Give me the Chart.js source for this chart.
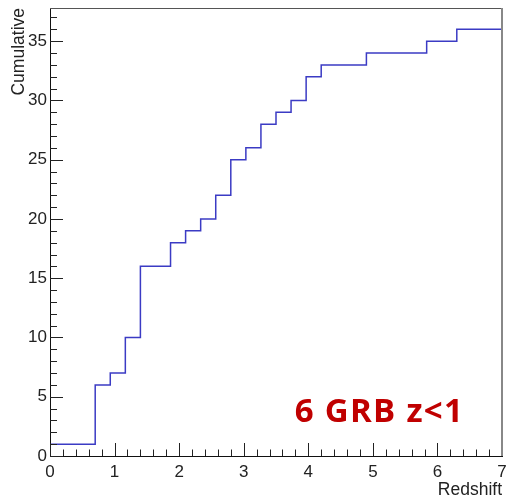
<!DOCTYPE html>
<html>
<head>
<meta charset="utf-8">
<script src="https://cdn.jsdelivr.net/npm/chart.js@4"></script>
<style>
  html, body { margin: 0; padding: 0; background: #fff; }
  #wrap { width: 506px; height: 499px; }
</style>
</head>
<body>
<div id="wrap"><canvas id="cumChart" width="506" height="499"></canvas></div>
<script>
// histogram binning (redshift axis)
const zMin = 0;
const zMax = 7;
const nBins = 30;
// cumulative number of GRBs per bin
const cumulative = [
    1, 1, 1, 6, 7, 10, 16, 16, 18, 19,
    20, 22, 25, 26, 28, 29, 30, 32, 33, 33,
    33, 34, 34, 34, 34, 35, 35, 36, 36, 36
];
const xTicks = [0, 1, 2, 3, 4, 5, 6, 7];
const yTicks = [0, 5, 10, 15, 20, 25, 30, 35];
const yMax = 37.8;
const note = '6 GRB z<1';

// build step points: value held from each bin's low edge to the next
const binWidth = (zMax - zMin) / nBins;
const points = cumulative.map((v, i) => ({ x: zMin + i * binWidth, y: v }));
points.push({ x: zMax, y: cumulative[cumulative.length - 1] });

const axisFont = { family: "'Liberation Sans', Arial, sans-serif", size: 17 };
const titleFont = { family: "'Liberation Sans', Arial, sans-serif", size: 17.5 };

// ROOT-like frame: inward major/minor ticks, grey top/right edges, label
const rootFrame = {
    id: 'rootFrame',
    afterDraw(chart) {
        const ctx = chart.ctx;
        const a = chart.chartArea;
        const xs = chart.scales.x;
        const ys = chart.scales.y;
        ctx.save();
        ctx.strokeStyle = '#222';
        ctx.lineWidth = 1;
        ctx.beginPath();
        for (let k = 0; k <= (zMax - zMin) * 5; k++) {
            const v = zMin + k * 0.2;
            const px = Math.round(xs.getPixelForValue(v)) + 0.5;
            const len = k % 5 === 0 ? 13 : 6.5;
            ctx.moveTo(px, a.bottom);
            ctx.lineTo(px, a.bottom - len);
        }
        for (let v = 0; v <= Math.floor(yMax); v++) {
            const py = Math.round(ys.getPixelForValue(v)) + 0.5;
            const len = v % 5 === 0 ? 13 : 7;
            ctx.moveTo(a.left, py);
            ctx.lineTo(a.left + len, py);
        }
        ctx.stroke();

        ctx.strokeStyle = '#555';
        ctx.beginPath();
        ctx.moveTo(a.left, a.top + 0.5);
        ctx.lineTo(a.right, a.top + 0.5);
        ctx.stroke();
        ctx.strokeStyle = '#888';
        ctx.lineWidth = 2;
        ctx.beginPath();
        ctx.moveTo(a.right, a.top);
        ctx.lineTo(a.right, a.bottom);
        ctx.stroke();

        ctx.fillStyle = '#c00000';
        ctx.font = "bold 33px 'Open Sans', sans-serif";
        ctx.letterSpacing = '1.3px';
        ctx.textBaseline = 'alphabetic';
        ctx.textAlign = 'left';
        ctx.fillText(note, xs.getPixelForValue(3.79), ys.getPixelForValue(2.84));
        ctx.restore();
    }
};

const ctx = document.getElementById('cumChart').getContext('2d');
new Chart(ctx, {
    type: 'line',
    data: {
        datasets: [{
            label: 'Cumulative',
            data: points,
            stepped: 'before',
            borderColor: '#3b3bc4',
            borderWidth: 1.5,
            pointRadius: 0,
            fill: false
        }]
    },
    options: {
        responsive: false,
        animation: false,
        layout: { padding: { top: 8, right: 4, left: 0, bottom: 0 } },
        plugins: {
            legend: { display: false },
            tooltip: { enabled: false }
        },
        scales: {
            x: {
                type: 'linear',
                min: zMin,
                max: zMax,
                afterBuildTicks: (s) => { s.ticks = xTicks.map(v => ({ value: v })); },
                afterFit: (s) => { s.height = 43; s.paddingLeft = 0; s.paddingRight = 0; },
                grid: { display: false, drawTicks: false },
                border: { display: true, color: '#111', width: 1 },
                ticks: { font: axisFont, color: '#222', padding: 6, maxRotation: 0, autoSkip: false },
                title: {
                    display: true, text: 'Redshift', align: 'end',
                    font: titleFont, color: '#222', padding: { top: 0, bottom: -2 }
                }
            },
            y: {
                type: 'linear',
                min: 0,
                max: yMax,
                afterBuildTicks: (s) => { s.ticks = yTicks.map(v => ({ value: v })); },
                afterFit: (s) => { s.width = 50; s.paddingTop = 0; s.paddingBottom = 0; },
                grid: { display: false, drawTicks: false },
                border: { display: true, color: '#111', width: 1 },
                ticks: { font: axisFont, color: '#222', padding: 3, autoSkip: false },
                title: {
                    display: true, text: 'Cumulative', align: 'end',
                    font: titleFont, color: '#222', padding: { top: 9, bottom: 0 }
                }
            }
        }
    },
    plugins: [rootFrame]
});
</script>
</body>
</html>
